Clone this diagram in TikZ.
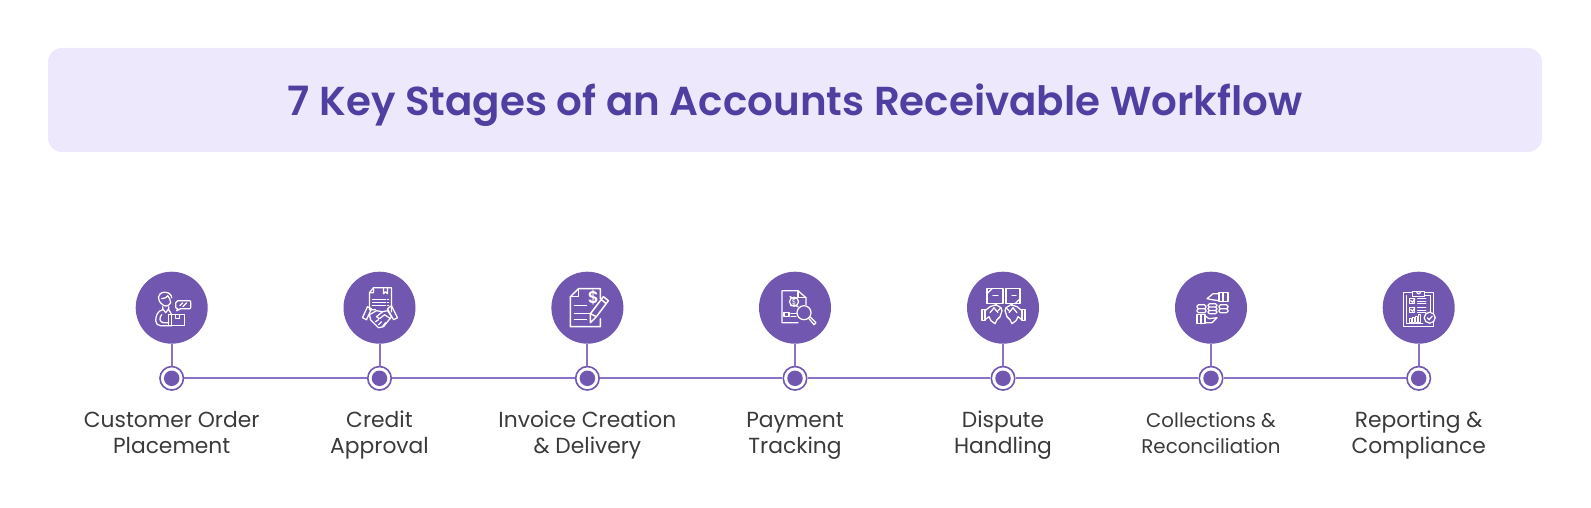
\documentclass[tikz,border=0pt]{standalone}
\usepackage{fontspec}
\setmainfont{Poppins}
\newfontfamily\titlefont{Poppins SemiBold}
\definecolor{boxlilac}{HTML}{EDE8FB}
\definecolor{titleblue}{HTML}{4F3FA0}
\definecolor{stagepurple}{HTML}{7257B0}
\definecolor{linepurple}{HTML}{8C72C4}
\definecolor{labelgrey}{HTML}{3A3A3A}
\newcommand{\labelstrut}{\rule[-6pt]{0pt}{24pt}}
\tikzset{
    stagedisc/.style={circle, fill=stagepurple, minimum size=72, inner sep=0},
    stagering/.style={circle, draw=stagepurple, fill=white, line width=1.6, minimum size=23.5, inner sep=0},
    stagecore/.style={circle, fill=stagepurple, minimum size=15.5, inner sep=0},
    stageline/.style={linepurple, line width=2},
    iconline/.style={draw=white, line width=1.25, line join=round, line cap=round},
}
% icons are drawn around the centre of their disc
\newcommand{\iconperson}{
    \draw[iconline] (-9,-3) .. controls (-15,-7) and (-15,-15) .. (-7,-15.5) .. controls (-2,-15.5) and (0,-12) .. (0,-10);
    \draw[iconline] (-10,-9) -- (-6,-10) -- (-4,-12) -- (-2,-9) -- (-1,-5) .. controls (-3,-1) and (-7,-1) .. (-9,-3);
    \draw[iconline] (-9,1) -- (-6,5) -- (-3,1) (-9,-1) -- (-9,2) (-3,-1) -- (-3,2) -- (0,7);
    \draw[iconline] (-9,2) .. controls (-14,3) and (-16,8) .. (-16,13) .. controls (-16,16) and (-14,18) .. (-11,18) -- (0,18);
    \draw[iconline] (-10,7) .. controls (-13,10) and (-12,15) .. (-8,15) -- (-3,15);
    \draw[iconline] (-3,7) rectangle (0,18);
    \draw[iconline] (0,7) rectangle (13,18) (4,7) -- (4,11) -- (8,11) -- (8,7);
    \draw[iconline] (6,-7) -- (18,-7) -- (19,-6) -- (19,0) -- (18,1) -- (9,1) -- (5,3) -- (6,1) -- (4,0) -- (4,-5) -- cycle;
    \draw[iconline] (8,-2) -- (11,-5) (11,-1) -- (15,-5);
}
\newcommand{\iconcredit}{
    \draw[iconline] (-4,2) -- (-10,2) -- (-10,-15) -- (-6,-20) -- (12,-20) -- (12,4);
    \draw[iconline] (-10,-15) -- (-6,-15) -- (-6,-20) (4,-20) -- (4,-14) -- (6,-16) -- (8,-14) -- (8,-20);
    \foreach \y in {-8, -5, -2}
        \draw[iconline] (-7,\y) -- (6,\y) (8,\y) -- (9,\y);
    \draw[iconline] (-17,10) -- (-12,-1) -- (-8,1) -- (-13,12) -- cycle;
    \draw[iconline] (18,10) -- (12,-2) -- (8,1) -- (14,12) -- cycle;
    \draw[iconline] (-10,7) -- (-3,3) -- (3,4) -- (8,3) -- (12,9) -- (4,19) -- (-1,20) -- (-9,12) -- cycle;
    \draw[iconline] (3,4) -- (-3,9) -- (0,11) -- (5,7) -- (11,11);
    \draw[iconline] (-4,14) -- (-1,12) (-1,17) -- (2,14) (3,19) -- (6,15);
}
\newcommand{\iconinvoice}{
    \draw[iconline, line width=1.5] (13,-9) -- (13,-19) -- (-9,-19) -- (-17,-11) -- (-17,19) -- (13,19) -- (13,11);
    \draw[iconline, line width=1.5] (-17,-11) -- (-9,-11) -- (-9,-19);
    \draw[iconline, line width=1.5] (-13,-2) -- (-1,-2) (-13,6) -- (4,6) (-13,12) -- (-1,12);
    \draw[iconline, line width=1.5] (3,15) -- (3,6) -- (16,-11) -- (21,-7) -- (9,9) -- cycle (3,6) -- (9,9) (14,-8) -- (19,-4);
    \node[text=white, font=\titlefont\fontsize{17}{17}\selectfont] (dollarsign) at (6,-10) {\$};
}
\newcommand{\icontracking}{
    \draw[iconline] (3,15) -- (-13,15) -- (-13,-17) -- (3,-17) -- (11,-10) -- (11,-3);
    \draw[iconline] (3,-17) -- (3,-10) -- (11,-10);
    \draw[iconline] (-1,-6) circle (4.5);
    \draw[iconline] (-5,-11) arc (135:60:6) (3,-1) arc (-45:-120:6);
    \node[text=white, font=\fontsize{7}{7}\selectfont, inner sep=0] (dollarsmall) at (-1,-6) {\$};
    \draw[iconline] (-11,5) rectangle (-6,9) (-4,6) -- (1,6) (-4,9) -- (1,9);
    \draw[iconline] (9,5) circle (7);
    \draw[iconline] (14,11) -- (19,17) -- (21,15) -- (15,9);
}
\newcommand{\iconfist}{
    \draw[iconline] (-21,2) rectangle (-18,13);
    \draw[iconline] (-18,3) -- (-13,-1) -- (-7,-3) -- (-2,0) -- (-1,3) -- (-3,9) -- (-6,12) -- (-8,16) -- (-12,13) -- (-14,9) -- (-18,12);
    \draw[iconline] (-13,5) -- (-9,0) -- (-5,5) (-6,12) -- (-3,9) (-2,0) -- (-5,3);
}
\newcommand{\icondispute}{
    \draw[iconline] (-16,-19) rectangle (0,-4) (3,-19) rectangle (17,-4);
    \draw[iconline] (-16,-14) -- (-11,-19) (17,-9) -- (12,-4);
    \draw[iconline] (-10,-12) -- (-5,-12) (9,-12) -- (13,-12);
    \draw[iconline] (-7,-4) -- (-7,-2) (9,-4) -- (9,-2);
    \iconfist
    \begin{scope}[xscale=-1, xshift=-1]
        \iconfist
    \end{scope}
}
\newcommand{\iconcoins}{
    \draw[iconline] (8,-15) rectangle (17,-6) (12,-15) -- (12,-6);
    \draw[iconline] (8,-14) -- (2,-14) -- (-4,-9) -- (1,-8) -- (8,-7);
    \draw[iconline, rounded corners=1.5] (-14,-3) rectangle (-5,1) (-14,1) rectangle (-5,5);
    \draw[iconline, rounded corners=1.5] (-3,-4) rectangle (6,-0.7) (-3,-0.7) rectangle (6,2.7) (-3,2.7) rectangle (6,6);
    \draw[iconline, rounded corners=1.5] (8,-3) rectangle (17,1) (8,1) rectangle (17,5);
    \draw[iconline] (-14,7) rectangle (-6,16) (-10,7) -- (-10,16);
    \draw[iconline] (-6,8) -- (-2,11) -- (6,10) -- (1,15) -- (-6,15);
}
\newcommand{\iconreport}{
    \draw[iconline] (-15,-15) rectangle (15,19) (-12,-12) -- (-12,16) -- (4,16) (12,4) -- (12,-12) -- (6,-12);
    \draw[iconline, fill=stagepurple] (-6,-16) rectangle (6,-11);
    \draw[iconline] (-2,-16) arc (180:0:2);
    \draw[iconline] (-9,-9) rectangle (-4,-4) (-9,0) rectangle (-4,5);
    \draw[iconline] (-8,-7) -- (-6,-5.5) -- (-4,-9) (-8,2) -- (-6,3.5) -- (-4,0);
    \foreach \y in {-9, -6, -4, 0, 3, 5}
        \draw[iconline] (-1,\y) -- (7,\y);
    \foreach \x/\h in {-9/11, -6/10, -3/9, 0/7}
        \draw[iconline] (\x,15) rectangle (\x+2,\h);
    \draw[iconline, fill=stagepurple] (11,10) circle (5.5);
    \draw[iconline] (8.5,10) -- (10.5,12) -- (13.5,8.5);
}
\begin{document}
\begin{tikzpicture}[x=1pt, y=-1pt]
    \useasboundingbox (0, 0) rectangle (1591, 508);
    \node[fill=boxlilac, rounded corners=14, minimum width=1494, minimum height=104, inner sep=0] (titlebox) at (795, 100) {};
    \node[font=\titlefont\fontsize{40.4}{46}\selectfont, text=titleblue, anchor=base] (title) at (795, 116) {7 Key Stages of an Accounts Receivable Workflow};

    \foreach \n/\x/\fsize/\textA in {1/171.7/21.8/{Customer Order\\Placement}, 2/379.5/21.8/{Credit\\Approval}, 3/587.4/21.8/{Invoice Creation\\\& Delivery}, 4/795/21.8/{Payment\\Tracking}, 5/1003/21.8/{Dispute\\Handling}, 6/1211/19.8/{Collections \&\\Reconciliation}, 7/1418.7/21.8/{Reporting \&\\Compliance}}
    {
        \node[stagedisc] (disc\n) at (\x, 307.7) {};
        \node[stagering] (ring\n) at (\x, 378.3) {};
        \node[stagecore] (core\n) at (\x, 378.3) {};
        \draw[stageline] (disc\n) -- (ring\n);
        \node[font=\fontsize{\fsize}{26.6}\selectfont, text=labelgrey, align=center, inner sep=0] (label\n) at (\x, 434.3) {\labelstrut\textA\labelstrut};
    }
    \foreach \A/\B in {1/2, 2/3, 3/4, 4/5, 5/6, 6/7}
        \draw[stageline] (ring\A) -- (ring\B);

    \foreach \n/\drawicon in {1/\iconperson, 2/\iconcredit, 3/\iconinvoice, 4/\icontracking, 5/\icondispute, 6/\iconcoins, 7/\iconreport}
    {
        \begin{scope}[shift={(disc\n.center)}]
            \drawicon
        \end{scope}
    }
\end{tikzpicture}
\end{document}
